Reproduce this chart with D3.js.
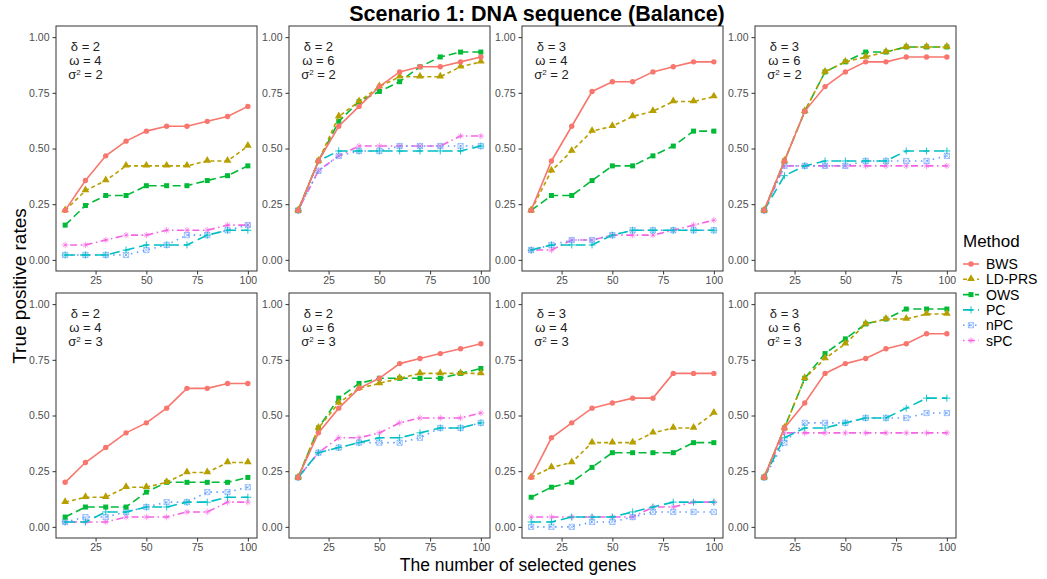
<!DOCTYPE html>
<meta charset="utf-8">
<style>
  body { margin: 0; background: #fff; }
  svg text { font-family: "Liberation Sans", Arial, sans-serif; }
</style>
<body>
<div id="chart"></div>
<script src="https://d3js.org/d3.v7.min.js"></script>
<script>
  // number of selected genes (x) and the methods
  var genes = [10, 20, 30, 40, 50, 60, 70, 80, 90, 100];
  var methods = ["BWS", "LD-PRS", "OWS", "PC", "nPC", "sPC"];

  // panel parameters, top row then bottom row
  var deltas = [2, 2, 3, 3, 2, 2, 3, 3];
  var omegas = [4, 6, 4, 6, 4, 6, 4, 6];
  var sigmas = [2, 2, 2, 2, 3, 3, 3, 3];

  // true positive rates, one row per panel
  var bws = [
    [0.222, 0.356, 0.467, 0.533, 0.578, 0.600, 0.600, 0.622, 0.644, 0.689],
    [0.222, 0.444, 0.600, 0.689, 0.778, 0.844, 0.867, 0.867, 0.889, 0.911],
    [0.222, 0.444, 0.600, 0.756, 0.800, 0.800, 0.844, 0.867, 0.889, 0.889],
    [0.222, 0.444, 0.667, 0.778, 0.844, 0.889, 0.889, 0.911, 0.911, 0.911],
    [0.200, 0.289, 0.356, 0.422, 0.467, 0.533, 0.622, 0.622, 0.644, 0.644],
    [0.222, 0.422, 0.533, 0.622, 0.667, 0.733, 0.756, 0.778, 0.800, 0.822],
    [0.222, 0.400, 0.467, 0.533, 0.556, 0.578, 0.578, 0.689, 0.689, 0.689],
    [0.222, 0.444, 0.556, 0.689, 0.733, 0.756, 0.800, 0.822, 0.867, 0.867]
  ];
  var ldprs = [
    [0.222, 0.311, 0.356, 0.422, 0.422, 0.422, 0.422, 0.444, 0.444, 0.511],
    [0.222, 0.444, 0.644, 0.711, 0.778, 0.822, 0.822, 0.822, 0.867, 0.889],
    [0.222, 0.400, 0.489, 0.578, 0.600, 0.644, 0.667, 0.711, 0.711, 0.733],
    [0.222, 0.444, 0.667, 0.844, 0.889, 0.911, 0.933, 0.956, 0.956, 0.956],
    [0.111, 0.133, 0.133, 0.178, 0.178, 0.200, 0.244, 0.244, 0.289, 0.289],
    [0.222, 0.444, 0.556, 0.622, 0.644, 0.667, 0.689, 0.689, 0.689, 0.689],
    [0.222, 0.267, 0.289, 0.378, 0.378, 0.378, 0.422, 0.444, 0.444, 0.511],
    [0.222, 0.444, 0.667, 0.756, 0.822, 0.911, 0.933, 0.933, 0.956, 0.956]
  ];
  var ows = [
    [0.156, 0.244, 0.289, 0.289, 0.333, 0.333, 0.333, 0.356, 0.378, 0.422],
    [0.222, 0.444, 0.622, 0.711, 0.756, 0.800, 0.867, 0.911, 0.933, 0.933],
    [0.222, 0.289, 0.289, 0.356, 0.422, 0.422, 0.467, 0.511, 0.578, 0.578],
    [0.222, 0.444, 0.667, 0.844, 0.889, 0.933, 0.933, 0.956, 0.956, 0.956],
    [0.044, 0.089, 0.089, 0.089, 0.156, 0.200, 0.200, 0.200, 0.200, 0.222],
    [0.222, 0.444, 0.578, 0.644, 0.667, 0.667, 0.667, 0.667, 0.689, 0.711],
    [0.133, 0.178, 0.200, 0.267, 0.333, 0.333, 0.333, 0.333, 0.378, 0.378],
    [0.222, 0.444, 0.667, 0.778, 0.844, 0.911, 0.933, 0.978, 0.978, 0.978]
  ];
  var pc = [
    [0.022, 0.022, 0.022, 0.044, 0.067, 0.067, 0.067, 0.111, 0.133, 0.133],
    [0.222, 0.444, 0.489, 0.489, 0.489, 0.489, 0.489, 0.489, 0.489, 0.511],
    [0.044, 0.067, 0.067, 0.067, 0.111, 0.133, 0.133, 0.133, 0.133, 0.133],
    [0.222, 0.378, 0.422, 0.444, 0.444, 0.444, 0.444, 0.489, 0.489, 0.489],
    [0.022, 0.022, 0.067, 0.067, 0.089, 0.089, 0.111, 0.111, 0.133, 0.133],
    [0.222, 0.333, 0.356, 0.378, 0.400, 0.400, 0.422, 0.444, 0.444, 0.467],
    [0.022, 0.022, 0.044, 0.044, 0.044, 0.067, 0.089, 0.111, 0.111, 0.111],
    [0.222, 0.400, 0.444, 0.444, 0.467, 0.489, 0.489, 0.533, 0.578, 0.578]
  ];
  var npc = [
    [0.022, 0.022, 0.022, 0.022, 0.044, 0.067, 0.111, 0.111, 0.133, 0.156],
    [0.222, 0.400, 0.467, 0.489, 0.489, 0.511, 0.511, 0.511, 0.511, 0.511],
    [0.044, 0.067, 0.089, 0.089, 0.111, 0.133, 0.133, 0.133, 0.133, 0.133],
    [0.222, 0.422, 0.422, 0.422, 0.422, 0.444, 0.444, 0.444, 0.444, 0.467],
    [0.022, 0.044, 0.044, 0.067, 0.089, 0.111, 0.111, 0.156, 0.156, 0.178],
    [0.222, 0.333, 0.356, 0.378, 0.378, 0.378, 0.400, 0.444, 0.444, 0.467],
    [0.000, 0.000, 0.000, 0.022, 0.022, 0.044, 0.067, 0.067, 0.067, 0.067],
    [0.222, 0.378, 0.467, 0.467, 0.467, 0.489, 0.489, 0.489, 0.511, 0.511]
  ];
  var spc = [
    [0.067, 0.067, 0.089, 0.111, 0.111, 0.133, 0.133, 0.133, 0.156, 0.156],
    [0.222, 0.400, 0.467, 0.511, 0.511, 0.511, 0.511, 0.511, 0.556, 0.556],
    [0.044, 0.044, 0.089, 0.089, 0.111, 0.111, 0.111, 0.133, 0.156, 0.178],
    [0.222, 0.422, 0.422, 0.422, 0.422, 0.422, 0.422, 0.422, 0.422, 0.422],
    [0.022, 0.022, 0.022, 0.044, 0.044, 0.044, 0.067, 0.067, 0.111, 0.111],
    [0.222, 0.333, 0.400, 0.400, 0.422, 0.467, 0.489, 0.489, 0.489, 0.511],
    [0.044, 0.044, 0.044, 0.044, 0.044, 0.044, 0.089, 0.089, 0.111, 0.111],
    [0.222, 0.422, 0.422, 0.422, 0.422, 0.422, 0.422, 0.422, 0.422, 0.422]
  ];
  var series = [bws, ldprs, ows, pc, npc, spc];

  var yTicks = [0, 0.25, 0.5, 0.75, 1];
  var xTicks = [25, 50, 75, 100];

  var colors = ["#F8766D", "#B79F00", "#00BA38", "#00BFC4", "#619CFF", "#F564E3"];
  var dashes = [null, "4,3", "8,4", "10,5", "1.5,4.5", "1.5,3.5,7,3.5"];
  var shapes = ["circle", "triangle", "square", "plus", "squarex", "star"];

  var W = 1047, H = 579;
  var pw = 201, ph = 245;
  var lefts = [56, 289, 522, 755];
  var tops = [26, 293];

  var svg = d3.select("#chart").append("svg")
    .attr("width", W).attr("height", H);

  var x = d3.scaleLinear().domain([5.5, 104.5]).range([0, pw]);
  var y = d3.scaleLinear().domain([-0.05, 1.05]).range([ph, 0]);

  var line = d3.line()
    .x(function(d) { return x(d[0]); })
    .y(function(d) { return y(d[1]); });

  function drawShape(g, shape, color, cx, cy) {
    var s = 2.6;
    if (shape == "circle") {
      g.append("circle").attr("cx", cx).attr("cy", cy).attr("r", 2.7).attr("fill", color);
    } else if (shape == "triangle") {
      g.append("path").attr("d", d3.symbol().type(d3.symbolTriangle).size(26)())
        .attr("transform", "translate(" + cx + "," + (cy - 0.5) + ")").attr("fill", color);
    } else if (shape == "square") {
      g.append("rect").attr("x", cx - 2.5).attr("y", cy - 2.5).attr("width", 5).attr("height", 5).attr("fill", color);
    } else if (shape == "plus") {
      g.append("path").attr("d", "M" + (cx - 3.5) + "," + cy + "h7M" + cx + "," + (cy - 3.5) + "v7")
        .attr("stroke", color).attr("stroke-width", 0.9).attr("fill", "none");
    } else if (shape == "squarex") {
      g.append("path").attr("d", "M" + (cx - s) + "," + (cy - s) + "h" + 2 * s + "v" + 2 * s + "h" + (-2 * s) + "Z" +
          "M" + (cx - s) + "," + (cy - s) + "l" + 2 * s + "," + 2 * s +
          "M" + (cx + s) + "," + (cy - s) + "l" + (-2 * s) + "," + 2 * s)
        .attr("stroke", color).attr("stroke-width", 0.8).attr("fill", "none").attr("opacity", 0.75);
    } else {
      var r = 3.2;
      g.append("path").attr("d", "M" + (cx - r) + "," + cy + "h" + 2 * r + "M" + cx + "," + (cy - r) + "v" + 2 * r +
          "M" + (cx - r * 0.7) + "," + (cy - r * 0.7) + "l" + 1.4 * r + "," + 1.4 * r +
          "M" + (cx + r * 0.7) + "," + (cy - r * 0.7) + "l" + (-1.4 * r) + "," + 1.4 * r)
        .attr("stroke", color).attr("stroke-width", 0.8).attr("fill", "none").attr("opacity", 0.8);
    }
  }

  for (var p = 0; p < 8; p++) {
    var row = Math.floor(p / 4), col = p % 4;
    var g = svg.append("g")
      .attr("transform", "translate(" + lefts[col] + "," + tops[row] + ")");

    // y axis
    var ya = g.append("g").call(d3.axisLeft(y).tickValues(yTicks)
      .tickFormat(d3.format(".2f")).tickSize(3.5).tickPadding(3));
    // x axis
    var xa = g.append("g").attr("transform", "translate(0," + ph + ")")
      .call(d3.axisBottom(x).tickValues(xTicks).tickSize(3.5).tickPadding(2));
    [ya, xa].forEach(function(a) {
      a.select(".domain").remove();
      a.selectAll(".tick line").attr("stroke", "#333333");
      a.selectAll(".tick text").attr("fill", "#4D4D4D").style("font-size", "10.5px")
        .style("font-family", "'Liberation Sans', Arial, sans-serif");
    });

    // lines, drawn back to front so BWS is on top
    for (var m = methods.length - 1; m >= 0; m--) {
      var pts = genes.map(function(gv, i) { return [gv, series[m][p][i]]; });
      g.append("path").datum(pts)
        .attr("d", line)
        .attr("fill", "none")
        .attr("stroke", colors[m])
        .attr("stroke-width", 1.6)
        .attr("stroke-dasharray", dashes[m]);
      pts.forEach(function(d) {
        drawShape(g, shapes[m], colors[m], x(d[0]), y(d[1]));
      });
    }

    // panel border
    g.append("rect").attr("width", pw).attr("height", ph)
      .attr("fill", "none").attr("stroke", "#333333").attr("stroke-width", 1);

    // parameter annotation (one text per line so lines don't collide)
    var ax = x(20);
    g.append("text").attr("x", ax).attr("y", 25).attr("text-anchor", "middle")
      .attr("fill", "#222").style("font-size", "13px").text("δ = " + deltas[p]);
    g.append("text").attr("x", ax).attr("y", 39).attr("text-anchor", "middle")
      .attr("fill", "#222").style("font-size", "13px").text("ω = " + omegas[p]);
    var s3 = g.append("text").attr("x", ax).attr("y", 53).attr("text-anchor", "middle")
      .attr("fill", "#222").style("font-size", "13px");
    s3.append("tspan").text("σ");
    s3.append("tspan").attr("dy", -4).style("font-size", "8px").text("2");
    s3.append("tspan").attr("dy", 4).text(" = " + sigmas[p]);
  }

  // title and axis titles
  svg.append("text").attr("x", 537).attr("y", 21).attr("text-anchor", "middle")
    .style("font-size", "21.5px").style("font-weight", "bold").attr("fill", "#000")
    .text("Scenario 1: DNA sequence (Balance)");
  svg.append("text").attr("x", 518).attr("y", 571).attr("text-anchor", "middle")
    .style("font-size", "17.5px").attr("fill", "#000")
    .text("The number of selected genes");
  svg.append("text").attr("transform", "translate(26,286) rotate(-90)")
    .attr("text-anchor", "middle").style("font-size", "19px").attr("fill", "#000")
    .text("True positive rates");

  // legend
  var leg = svg.append("g").attr("transform", "translate(963,0)");
  leg.append("text").attr("x", 0).attr("y", 247).style("font-size", "17px").text("Method");
  methods.forEach(function(name, i) {
    var ly = 264 + i * 15.3;
    leg.append("line").attr("x1", 0).attr("x2", 16).attr("y1", ly).attr("y2", ly)
      .attr("stroke", colors[i]).attr("stroke-width", 1.6)
      .attr("stroke-dasharray", dashes[i]);
    drawShape(leg, shapes[i], colors[i], 8, ly);
    leg.append("text").attr("x", 23).attr("y", ly + 5).style("font-size", "14px").text(name);
  });
</script>
</body>
